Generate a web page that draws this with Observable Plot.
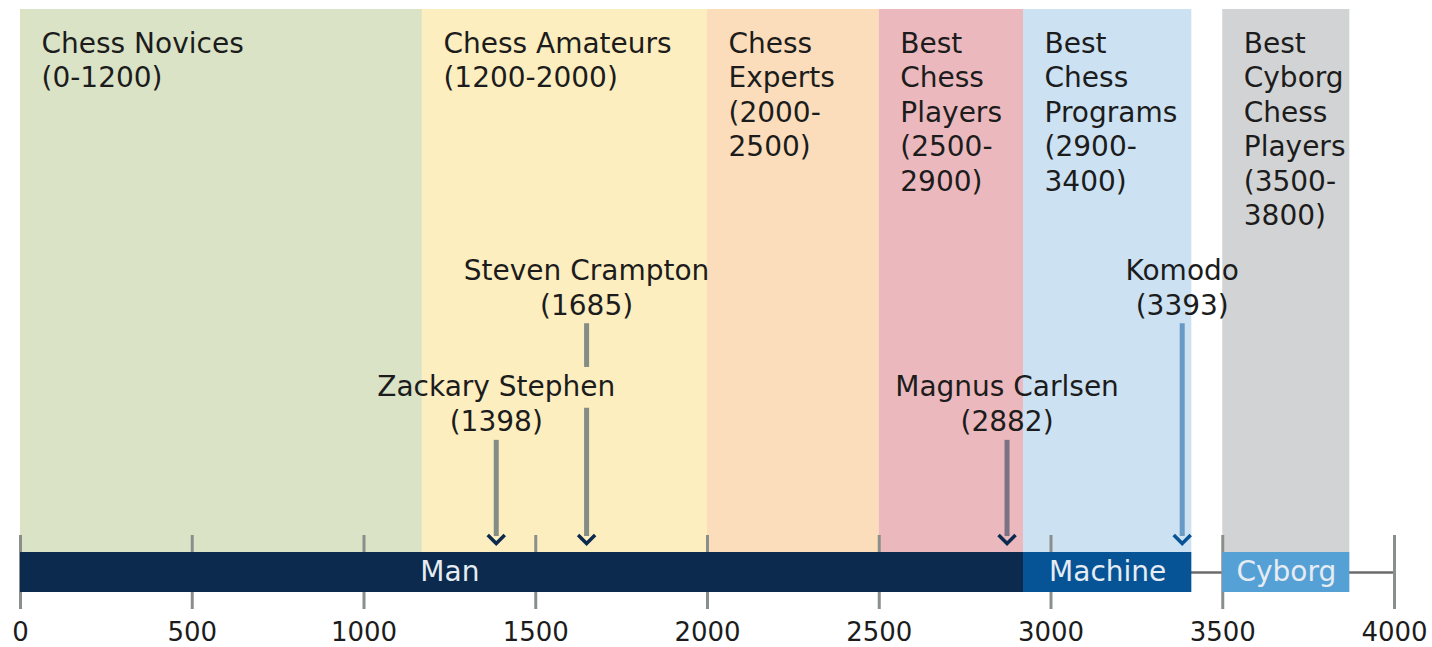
<!DOCTYPE html>
<html><head><meta charset="utf-8">
<script src="https://cdn.jsdelivr.net/npm/d3@7"></script>
<script src="https://cdn.jsdelivr.net/npm/@observablehq/plot@0.6"></script>
<style>body{margin:0;background:#fff}</style>
</head><body><div id="chart"></div>
<script>
// ---- data ----
const bandNames = ["Chess Novices", "Chess Amateurs", "Chess Experts", "Best Chess Players", "Best Chess Programs", "Best Cyborg Chess Players"];
const bandLabels = [
  "Chess Novices\n(0-1200)",
  "Chess Amateurs\n(1200-2000)",
  "Chess\nExperts\n(2000-\n2500)",
  "Best\nChess\nPlayers\n(2500-\n2900)",
  "Best\nChess\nPrograms\n(2900-\n3400)",
  "Best\nCyborg\nChess\nPlayers\n(3500-\n3800)"
];
const bandStart = [0, 1170, 2000, 2500, 2920, 3500];
const bandEnd   = [1170, 2000, 2500, 2920, 3410, 3870];

const groupNames   = ["Man", "Machine", "Cyborg"];
const groupStart   = [0, 2920, 3500];
const groupEnd     = [2920, 3410, 3870];
const groupLabelAt = [1250, 3165, 3685];

const personNames   = ["Zackary Stephen", "Steven Crampton", "Magnus Carlsen", "Komodo"];
const personRatings = [1398, 1685, 2882, 3393];
const personMarkX   = [1385, 1648, 2872, 3382];   // where the arrows sit on the drawn scale
const personGroup   = ["Man", "Man", "Man", "Machine"];
const personTier    = [2, 1, 2, 1];

const xTicks = [0, 500, 1000, 1500, 2000, 2500, 3000, 3500, 4000];

// ---- styles / layout ----
const bandColors  = ["#dae3c6", "#fdeec0", "#fbddbb", "#ebb9bd", "#cce1f2", "#d2d3d4"];
const groupColors = ["#0b2a4d", "#065496", "#55a1d6"];
const textColor = "#1c1c1c";
const BAR_TOP = 6.86, BAR_MID = 3.43;
const tierLabelY = {1: 57.8, 2: 37.9};
const tierShaftY = {1: 46.1, 2: 26.1};
const SHAFT_END = 9.6, TIP = 8.4;
const GAP_TOP = 38.6, GAP_BOTTOM = 31.6;

const bands = bandNames.map((n, i) => ({name: n, label: bandLabels[i], x1: bandStart[i], x2: bandEnd[i]}));
const groups = groupNames.map((n, i) => ({name: n, x1: groupStart[i], x2: groupEnd[i], lx: groupLabelAt[i]}));
const persons = personNames.map((n, i) => ({name: n, rating: personRatings[i], x: personMarkX[i], group: personGroup[i], tier: personTier[i]}));

// shaft segments; upper-tier shafts break behind a nearby lower-tier label
const shafts = [];
for (const p of persons) {
  const top = tierShaftY[p.tier];
  const blocked = p.tier === 1 && persons.some(q => q.tier === 2 && Math.abs(q.x - p.x) < 350);
  if (blocked) {
    shafts.push({x: p.x, group: p.group, y1: top, y2: GAP_TOP});
    shafts.push({x: p.x, group: p.group, y1: GAP_BOTTOM, y2: SHAFT_END});
  } else {
    shafts.push({x: p.x, group: p.group, y1: top, y2: SHAFT_END});
  }
}

const chevron = {
  draw(ctx, size) {
    const r = Math.sqrt(size / Math.PI);
    ctx.moveTo(-r, -r);
    ctx.lineTo(0, 0);
    ctx.lineTo(r, -r);
  }
};

const groupColor = Object.fromEntries(groupNames.map((g, i) => [g, groupColors[i]]));

const chart = Plot.plot({
  width: 1432,
  height: 647,
  marginLeft: 20,
  marginRight: 38,
  marginTop: 9,
  marginBottom: 55,
  style: {fontFamily: "DejaVu Sans", background: "#fff", overflow: "visible"},
  x: {domain: [0, 4000], axis: null},
  y: {domain: [0, 100], axis: null},
  marks: [
    Plot.rect(bands, {x1: "x1", x2: "x2", y1: BAR_TOP, y2: 100, fill: (d) => bandColors[bandNames.indexOf(d.name)]}),
    Plot.ruleY([BAR_MID], {x1: 0, x2: 4000, stroke: "#6b6b6b", strokeWidth: 2.5}),
    Plot.ruleX(xTicks, {x: d => d, y1: -2.92, y2: 9.78, stroke: "#8a8f8c", strokeWidth: 3}),
    Plot.rect(groups, {x1: "x1", x2: "x2", y1: 0, y2: BAR_TOP, fill: d => groupColor[d.name]}),
    Plot.text(groups, {x: "lx", y: BAR_MID, text: "name", fill: "#e6ecf2", fontSize: 28, lineAnchor: "middle"}),
    Plot.text(bands, {x: "x1", y: 96.75, text: "label", textAnchor: "start", lineAnchor: "top", dx: 21, fontSize: 28, lineHeight: 1.232, fill: textColor}),
    Plot.ruleX(shafts, {x: "x", y1: "y1", y2: "y2", stroke: d => groupColor[d.group], strokeOpacity: 0.5, strokeWidth: 5}),
    Plot.dot(persons, {x: "x", y: TIP, symbol: chevron, r: 8.5, stroke: d => groupColor[d.group], strokeWidth: 3.5, fill: "none"}),
    Plot.text(persons, {x: "x", y: d => tierLabelY[d.tier], text: d => `${d.name}\n(${d.rating})`, textAnchor: "middle", lineAnchor: "top", fontSize: 28, lineHeight: 1.232, fill: textColor}),
    Plot.axisX(xTicks, {tickSize: 0, tickPadding: 30, fontSize: 26, fill: textColor, tickFormat: d => String(d)})
  ]
});
document.getElementById("chart").appendChild(chart);
</script>
</body></html>
